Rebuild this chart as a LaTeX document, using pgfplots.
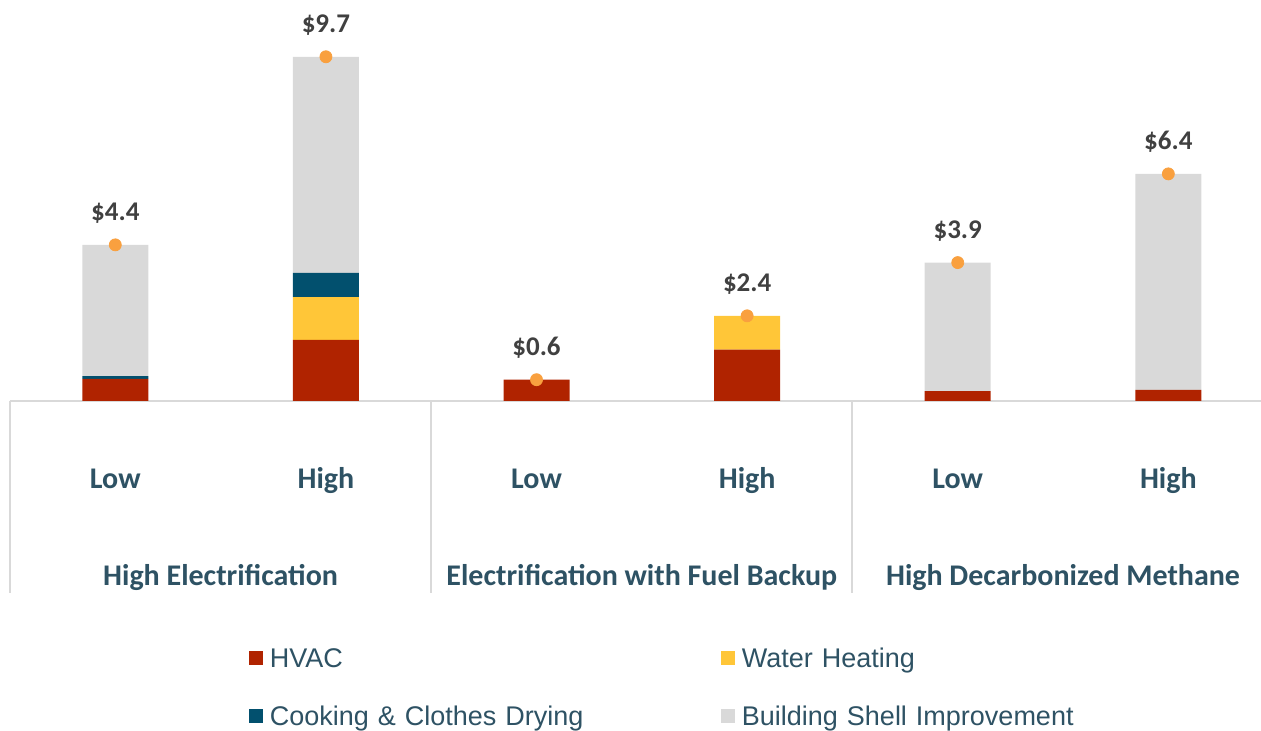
\documentclass[border=0pt]{standalone}
\usepackage{pgfplots}
\pgfplotsset{compat=1.18}
\usepackage{fontspec}
\setmainfont{Carlito}
\newfontfamily\arial{Liberation Sans}
\definecolor{hvac}{HTML}{B02300}
\definecolor{water}{HTML}{FFC638}
\definecolor{cook}{HTML}{02506E}
\definecolor{shell}{HTML}{D9D9D9}
\definecolor{dotc}{HTML}{F9A03F}
\definecolor{teal}{HTML}{2E5264}
\definecolor{valc}{HTML}{404040}

\pgfplotsset{
  base/.style={
    width=625.5pt, height=200.5pt, scale only axis,
    at={(0,0)}, anchor=south west,
    xmin=-0.5, xmax=5.44, ymin=0, ymax=11.3,
    clip=false,
  },
}

\begin{document}
\begin{tikzpicture}
\begin{axis}[
  base,
  ybar stacked,
  bar width=33pt,
  axis x line*=bottom,
  axis y line=none,
  x axis line style={color=shell, line width=1pt, -},
  xtick={0,1,2,3,4,5},
  xticklabels={Low,High,Low,High,Low,High},
  major tick length=0pt,
  xticklabel style={font=\fontsize{15}{18}\selectfont\bfseries, text=teal, anchor=base, yshift=-43.5pt},
  legend columns=2,
  legend style={at={(0.191,-0.6167)}, anchor=north west, draw=none, fill=none,
    inner sep=0pt, outer sep=0pt, row sep=19.3pt, column sep=0pt,
    font=\arial\fontsize{13.5}{16}\selectfont, text=teal,
    nodes={inner sep=0pt, text width=225.5pt, align=left, text height=9.7pt, text depth=0pt}},
  legend image code/.code={\fill[#1] (0pt,-3.5pt) rectangle (7pt,3.5pt); \path (10.5pt,0pt);},
]
\addplot[fill=hvac, draw=none] coordinates {(0,0.62) (1,1.72) (2,0.6) (3,1.45) (4,0.28) (5,0.31)};
\addplot[fill=water, draw=none] coordinates {(0,0) (1,1.21) (2,0) (3,0.95) (4,0) (5,0)};
\addplot[fill=cook, draw=none] coordinates {(0,0.08) (1,0.68) (2,0) (3,0) (4,0) (5,0)};
\addplot[fill=shell, draw=none] coordinates {(0,3.7) (1,6.09) (2,0) (3,0) (4,3.62) (5,6.09)};
\legend{HVAC, Water Heating, Cooking \& Clothes Drying, Building Shell Improvement}
\draw[shell, line width=1pt] (axis cs:-0.5,0) -- ++(0pt,-96pt);
\draw[shell, line width=1pt] (axis cs:1.5,0) -- ++(0pt,-96pt);
\draw[shell, line width=1pt] (axis cs:3.5,0) -- ++(0pt,-96pt);
\node[font=\fontsize{15}{18}\selectfont\bfseries, text=teal, anchor=base] at ([yshift=-92pt]axis cs:0.5,0) {High Electrification};
\node[font=\fontsize{15}{18}\selectfont\bfseries, text=teal, anchor=base] at ([yshift=-92pt]axis cs:2.5,0) {Electrification with Fuel Backup};
\node[font=\fontsize{15}{18}\selectfont\bfseries, text=teal, anchor=base] at ([yshift=-92pt]axis cs:4.5,0) {High Decarbonized Methane};
\end{axis}
\begin{axis}[
  base,
  hide axis,
]
\addplot[only marks, mark=*, mark size=3pt, color=dotc,
  point meta=y,
  nodes near coords={\$\pgfmathprintnumber[fixed,precision=1,fixed zerofill,assume math mode=true]{\pgfplotspointmeta}},
  nodes near coords style={font=\fontsize{13.5}{16}\selectfont\bfseries, text=valc, anchor=base, yshift=12pt},
] coordinates {(0,4.4) (1,9.7) (2,0.6) (3,2.4) (4,3.9) (5,6.4)};
\end{axis}
\pgfresetboundingbox
\useasboundingbox (-5pt,-165pt) rectangle (625.5pt,200.5pt);
\end{tikzpicture}
\end{document}
